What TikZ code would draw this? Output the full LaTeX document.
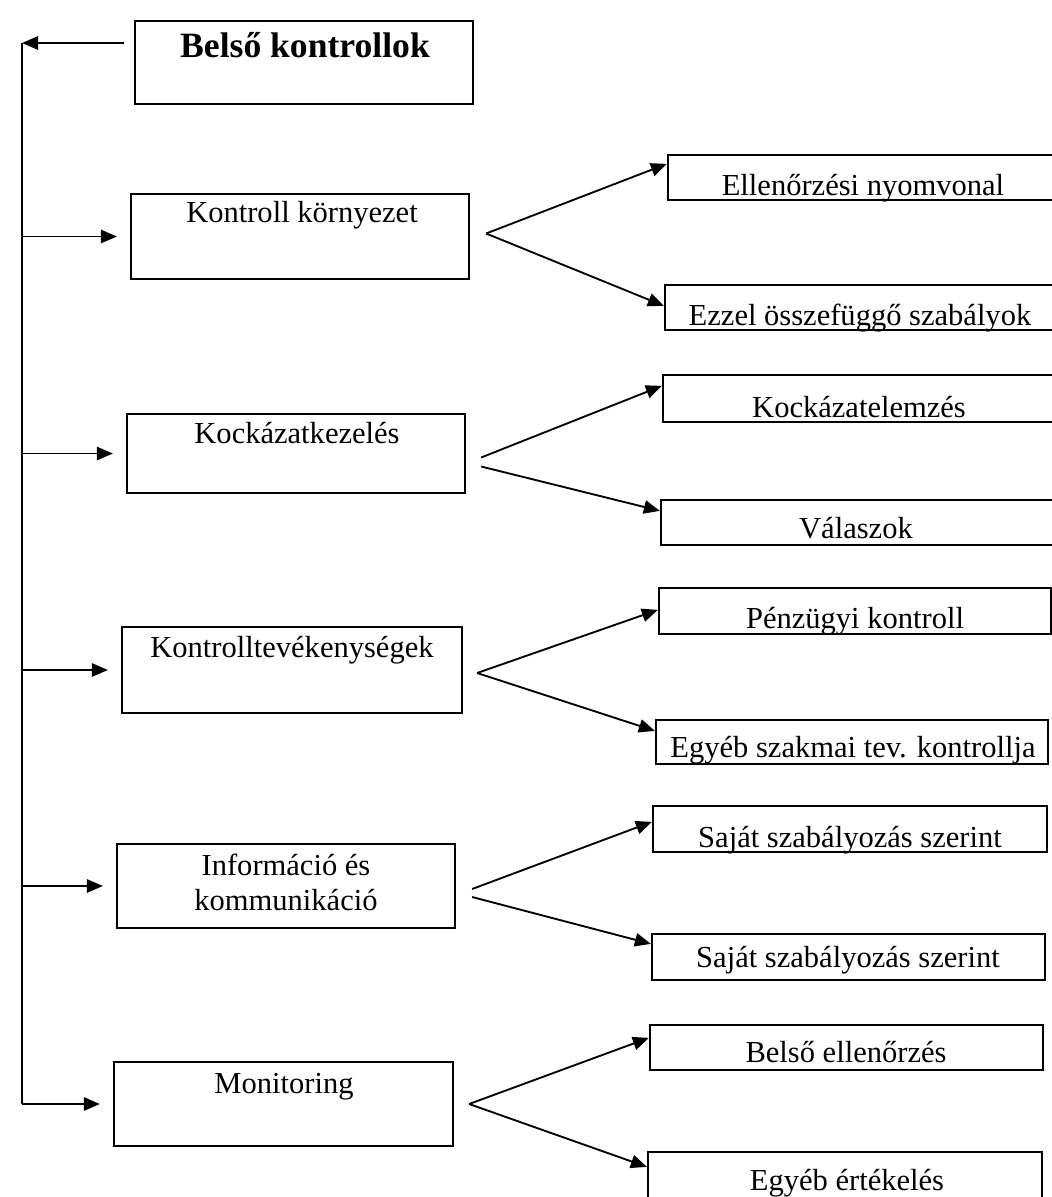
\documentclass[tikz,border=0pt]{standalone}
\usepackage{fontspec}
\setmainfont{Liberation Serif}
\usetikzlibrary{arrows.meta,fit,calc}
\begin{document}
\begin{tikzpicture}[x=0.75pt,y=-0.75pt,
  box/.style={draw, line width=1.7pt, inner sep=0pt, rectangle},
  lbl/.style={anchor=base, font=\fontsize{22.9}{26.25}\selectfont, inner sep=0pt},
  ttl/.style={anchor=base, font=\fontsize{26.7}{30}\selectfont\bfseries, inner sep=0pt},
  conn/.style={line width=1.4pt},
  arr/.style={line width=1.4pt, -{Triangle[length=12pt,width=10pt]}},
]
\useasboundingbox (0,0) rectangle (1052,1197);
\clip (0,0) rectangle (1052,1197);

% left column boxes
\node[box, fit={(135,21) (473,104)}] (b0) {};
\node[box, fit={(131,194) (469,279)}] (kk) {};
\node[box, fit={(127,414) (465,493)}] (kz) {};
\node[box, fit={(122,627) (462,713)}] (kt) {};
\node[box, fit={(117,844) (455,928)}] (ik) {};
\node[box, fit={(114,1062) (453,1146)}] (mo) {};

\node[ttl] (b0t) at (305,57) {Belső kontrollok};
\node[lbl] (kkt) at (302,222) {Kontroll környezet};
\node[lbl] (kzt) at (297,443) {Kockázatkezelés};
\node[lbl] (ktt) at (292,657) {Kontrolltevékenységek};
\node[lbl] (ikt1) at (286,875) {Információ és};
\node[lbl] (ikt2) at (286,910) {kommunikáció};
\node[lbl] (mot) at (284,1093) {Monitoring};

% right column boxes
\node[box, fit={(668,155) (1075,200)}] (r1) {};
\node[box, fit={(665,285) (1075,330)}] (r2) {};
\node[box, fit={(663,375) (1075,422)}] (r3) {};
\node[box, fit={(661,500) (1075,545)}] (r4) {};
\node[box, fit={(659,588) (1051,634)}] (r5) {};
\node[box, fit={(656,720) (1048,764)}] (r6) {};
\node[box, fit={(653,806) (1047,852)}] (r7) {};
\node[box, fit={(652,934) (1045,980)}] (r8) {};
\node[box, fit={(650,1025) (1043,1070)}] (r9) {};
\node[box, fit={(648,1152) (1042,1215)}] (r10) {};

\node[lbl] (r1t) at (863,195) {Ellenőrzési nyomvonal};
\node[lbl] (r2t) at (860,325) {Ezzel összefüggő szabályok};
\node[lbl] (r3t) at (859,417) {Kockázatelemzés};
\node[lbl] (r4t) at (856,538) {Válaszok};
\node[lbl] (r5t) at (855,628) {Pénzügyi kontroll};
\node[lbl] (r6t) at (853,757) {Egyéb szakmai tev. kontrollja};
\node[lbl] (r7t) at (850,847) {Saját szabályozás szerint};
\node[lbl] (r8t) at (848,967) {Saját szabályozás szerint};
\node[lbl] (r9t) at (846,1062) {Belső ellenőrzés};
\node[lbl] (r10t) at (847,1190) {Egyéb értékelés};

% trunk
\coordinate (t0) at (22,43);
\coordinate (tb) at (22,1104);
\draw[conn] (t0) -- (tb);
\draw[arr, shorten <=7.5pt] (b0.west |- t0) -- (t0);
\foreach \b in {kk,kz,kt,ik,mo}
  \draw[arr, shorten >=9.75pt] (t0 |- \b.west) -- (\b.west);

% branches
\coordinate (a1) at ($(kk.east)+(16,-3)$);
\coordinate (a2u) at ($(kz.east)+(15,4)$);
\coordinate (a2l) at ($(kz.east)+(15,13)$);
\coordinate (a3) at ($(kt.east)+(14,3)$);
\coordinate (a4u) at ($(ik.east)+(16,3)$);
\coordinate (a4l) at ($(ik.east)+(16,11)$);
\coordinate (a5) at ($(mo.east)+(15,0)$);

\draw[arr] (a1) -- ($(r1.north west)+(0,10)$);
\draw[arr] (a1) -- ($(r2.north west)+(0,22)$);
\draw[arr] (a2u) -- ($(r3.north west)+(0,12)$);
\draw[arr] (a2l) -- ($(r4.north west)+(0,12)$);
\draw[arr] (a3) -- ($(r5.north west)+(0,23)$);
\draw[arr] (a3) -- ($(r6.north west)+(0,12)$);
\draw[arr] (a4u) -- ($(r7.north west)+(0,17)$);
\draw[arr] (a4l) -- ($(r8.north west)+(0,11)$);
\draw[arr] (a5) -- ($(r9.north west)+(0,14)$);
\draw[arr] (a5) -- ($(r10.north west)+(0,16)$);
\end{tikzpicture}
\end{document}
